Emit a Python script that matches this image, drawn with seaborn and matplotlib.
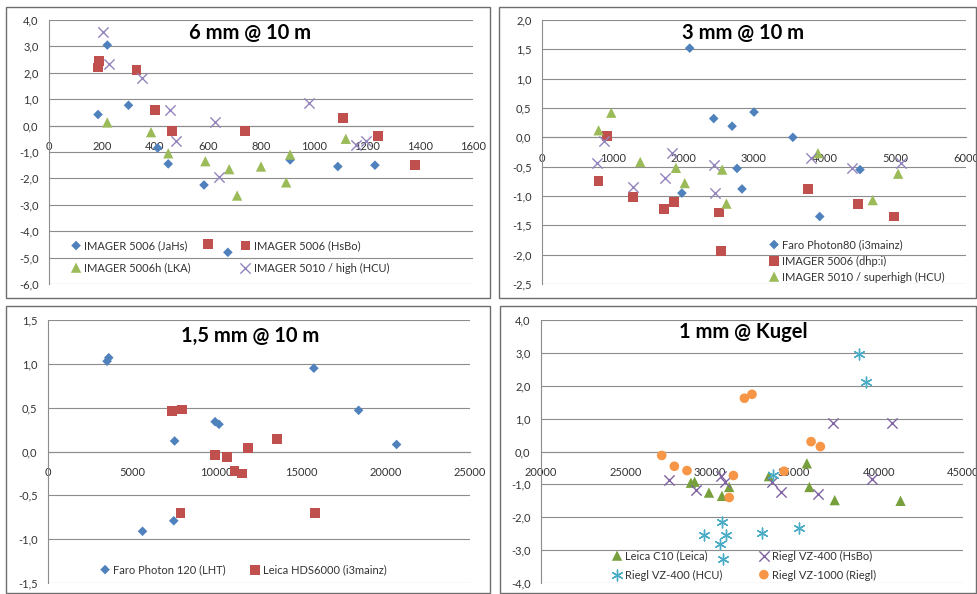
import matplotlib
matplotlib.use("Agg")
import matplotlib.pyplot as plt
from matplotlib.patches import Rectangle
from matplotlib.ticker import FuncFormatter, MultipleLocator
import seaborn as sns

# ---------------- data ----------------
# 6 mm @ 10 m
jahs_x = [185, 220, 300, 410, 450, 585, 675, 910, 1090, 1230]
jahs_y = [0.42, 3.05, 0.77, -0.85, -1.45, -2.25, -4.8, -1.3, -1.55, -1.5]
hsbo_x = [190, 185, 330, 400, 465, 600, 740, 1110, 1240, 1380]
hsbo_y = [2.45, 2.2, 2.1, 0.6, -0.22, -4.5, -0.22, 0.3, -0.4, -1.5]
lka_x = [220, 385, 450, 590, 680, 710, 800, 895, 910, 1120]
lka_y = [0.12, -0.25, -1.05, -1.35, -1.65, -2.65, -1.55, -2.15, -1.1, -0.5]
hcu_high_x = [205, 225, 350, 455, 480, 625, 640, 980, 1160, 1195]
hcu_high_y = [3.55, 2.35, 1.8, 0.6, -0.6, 0.15, -1.95, 0.85, -0.75, -0.6]

# 3 mm @ 10 m
photon80_x = [2090, 2430, 2690, 3000, 3550, 2760, 2830, 1980, 3930, 4500]
photon80_y = [1.52, 0.32, 0.19, 0.43, 0.0, -0.53, -0.88, -0.95, -1.35, -0.55]
dhpi_x = [800, 920, 1290, 1725, 1870, 2500, 2530, 3760, 4470, 4980]
dhpi_y = [-0.74, 0.02, -1.02, -1.22, -1.1, -1.28, -1.94, -0.88, -1.14, -1.35]
superhigh_x = [800, 980, 1390, 1895, 2020, 2550, 2610, 3905, 4680, 5040]
superhigh_y = [0.12, 0.42, -0.42, -0.52, -0.78, -0.55, -1.13, -0.27, -1.07, -0.62]
imager5010_x = [780, 880, 1285, 1740, 1840, 2430, 2445, 3800, 4385, 5080]
imager5010_y = [-0.44, -0.06, -0.85, -0.7, -0.27, -0.47, -0.95, -0.36, -0.53, -0.43]

# 1,5 mm @ 10 m
photon120_x = [3500, 3600, 5600, 7500, 7450, 9900, 10130, 15750, 18400, 20650]
photon120_y = [1.03, 1.07, -0.91, 0.12, -0.79, 0.34, 0.31, 0.95, 0.47, 0.08]
hds6000_x = [7350, 7920, 7850, 9900, 10600, 11050, 11500, 11850, 13550, 15800]
hds6000_y = [0.46, 0.48, -0.7, -0.04, -0.06, -0.22, -0.25, 0.04, 0.14, -0.7]

# 1 mm @ Kugel
c10_x = [28880, 29100, 29950, 30720, 31150, 33500, 35750, 35900, 37400, 41300]
c10_y = [-0.95, -0.92, -1.25, -1.35, -1.08, -0.75, -0.36, -1.08, -1.48, -1.5]
vz400_hsbo_x = [27600, 29200, 30650, 30900, 33700, 34200, 36400, 37300, 39600, 40800]
vz400_hsbo_y = [-0.88, -1.18, -0.75, -0.92, -0.92, -1.23, -1.3, 0.88, -0.83, 0.86]
vz400_hcu_x = [29650, 30720, 30600, 30950, 30800, 33100, 33750, 35300, 38850, 39250]
vz400_hcu_y = [-2.55, -2.15, -2.8, -2.55, -3.28, -2.48, -0.72, -2.33, 2.97, 2.12]
vz1000_x = [27150, 27900, 28650, 31400, 31150, 32050, 32500, 34400, 36000, 36550]
vz1000_y = [-0.12, -0.45, -0.58, -0.73, -1.4, 1.62, 1.74, -0.6, 0.3, 0.15]

titles = ["6 mm @ 10 m", "3 mm @ 10 m", "1,5 mm @ 10 m", "1 mm @ Kugel"]

# ---------------- style ----------------
sns.set_theme(style="white")
plt.rcParams["font.family"] = ["Lato", "DejaVu Sans"]

BLUE, RED, GREEN = "#4F81BD", "#C0504D", "#9BBB59"
PURPLE, AQUA, ORANGE = "#8064A2", "#4BACC6", "#F79646"
GRID = "#8c8c8c"
TXT = "#333333"
W, H = 977, 594

fig = plt.figure(figsize=(W / 100, H / 100), dpi=100)


def rect(l, r, t, b):
    return [l / W, 1 - b / H, (r - l) / W, (b - t) / H]


def comma(decimals):
    def f(v, pos):
        if abs(v) < 1e-9:
            v = 0.0
        return f"{v:.{decimals}f}".replace(".", ",")
    return FuncFormatter(f)


def setup(ax, xlim, ylim, xstep, ystep):
    ax.set_xlim(*xlim)
    ax.set_ylim(*ylim)
    ax.xaxis.set_major_locator(MultipleLocator(xstep))
    ax.yaxis.set_major_locator(MultipleLocator(ystep))
    ax.yaxis.set_major_formatter(comma(1))
    ax.xaxis.set_major_formatter(FuncFormatter(lambda v, p: f"{v:.0f}"))
    ax.spines["top"].set_visible(False)
    ax.spines["right"].set_visible(False)
    ax.spines["bottom"].set_position(("data", 0))
    for s in ("left", "bottom"):
        ax.spines[s].set_color(GRID)
        ax.spines[s].set_linewidth(0.8)
    ax.yaxis.grid(True, color=GRID, linewidth=0.8)
    ax.xaxis.grid(False)
    ax.tick_params(axis="x", direction="out", length=3, width=0.8, color=GRID,
                   pad=8, labelsize=8, labelcolor=TXT)
    ax.tick_params(axis="y", direction="out", length=4.5, width=0.8, color=GRID,
                   pad=3, labelsize=8, labelcolor=TXT)
    ax.set_xlabel("")
    ax.set_ylabel("")


def series(ax, x, y, marker, color, s, label, lw=None):
    kw = dict(x=x, y=y, marker=marker, color=color, s=s, label=label,
              zorder=3, ax=ax)
    if lw is None:
        kw["edgecolor"] = "none"
        kw["linewidth"] = 0
    else:
        kw["linewidth"] = lw
    sns.scatterplot(**kw)


def legend(ax, order, ncol, x_px, y_px, labelspacing, columnspacing):
    handles, labels = ax.get_legend_handles_labels()
    handles = [handles[i] for i in order]
    labels = [labels[i] for i in order]
    ax.legend(handles, labels, ncol=ncol, loc="center left",
              bbox_to_anchor=(x_px / W, 1 - y_px / H),
              bbox_transform=fig.transFigure, frameon=False,
              borderpad=0, borderaxespad=0, handlelength=1.0,
              handletextpad=0.25, labelspacing=labelspacing,
              columnspacing=columnspacing, fontsize=8, labelcolor=TXT,
              scatterpoints=1, scatteryoffsets=[0.5])


def title(ax, text, xf, yf):
    ax.text(xf, yf, text, transform=ax.transAxes, ha="center", va="center",
            fontsize=14.5, fontweight="bold", color="black", zorder=5)


ASTER = (6, 2, 0)

# panel frames
for l, t, r, b in [(6, 7, 490, 298), (499, 7, 976, 298),
                   (6, 306, 490, 593), (500, 306, 976, 593)]:
    fig.add_artist(Rectangle((l / W, 1 - b / H), (r - l) / W, (b - t) / H,
                             transform=fig.transFigure, fill=False,
                             ec="#6e6e6e", lw=1.0))

# --- 6 mm @ 10 m
ax1 = fig.add_axes(rect(49, 473, 20, 284))
series(ax1, jahs_x, jahs_y, "D", BLUE, 24, "IMAGER 5006 (JaHs)")
series(ax1, hsbo_x, hsbo_y, "s", RED, 50, "IMAGER 5006 (HsBo)")
series(ax1, lka_x, lka_y, "^", GREEN, 55, "IMAGER 5006h (LKA)")
series(ax1, hcu_high_x, hcu_high_y, "x", "#9585bd", 55, "IMAGER 5010 / high (HCU)", lw=1.0)
setup(ax1, (0, 1600), (-6, 4), 200, 1)
title(ax1, titles[0], 0.474, 0.951)
legend(ax1, [0, 2, 1, 3], 2, 70.5, 257, 1.0, 4.4)

# --- 3 mm @ 10 m
ax2 = fig.add_axes(rect(542, 966, 20, 284))
series(ax2, photon80_x, photon80_y, "D", BLUE, 24, "Faro Photon80 (i3mainz)")
series(ax2, dhpi_x, dhpi_y, "s", RED, 50, "IMAGER 5006 (dhp:i)")
series(ax2, superhigh_x, superhigh_y, "^", GREEN, 55, "IMAGER 5010 / superhigh (HCU)")
series(ax2, imager5010_x, imager5010_y, "x", "#9585bd", 55, "_nolegend_", lw=1.0)
setup(ax2, (0, 6000), (-2.5, 2), 1000, 0.5)
title(ax2, titles[1], 0.474, 0.951)
legend(ax2, [0, 1, 2], 1, 768.5, 261, 0.45, 1.0)

# --- 1,5 mm @ 10 m
ax3 = fig.add_axes(rect(48, 470, 320, 583))
series(ax3, photon120_x, photon120_y, "D", BLUE, 24, "Faro Photon 120 (LHT)")
series(ax3, hds6000_x, hds6000_y, "s", RED, 50, "Leica HDS6000 (i3mainz)")
setup(ax3, (0, 25000), (-1.5, 1.5), 5000, 0.5)
title(ax3, titles[2], 0.479, 0.939)
legend(ax3, [0, 1], 2, 99.5, 570, 0.5, 2.1)

# --- 1 mm @ Kugel
ax4 = fig.add_axes(rect(541, 963, 320, 583))
series(ax4, c10_x, c10_y, "^", "#77a03c", 55, "Leica C10 (Leica)")
series(ax4, vz400_hsbo_x, vz400_hsbo_y, "x", PURPLE, 55, "Riegl VZ-400 (HsBo)", lw=1.0)
series(ax4, vz400_hcu_x, vz400_hcu_y, ASTER, AQUA, 60, "Riegl VZ-400 (HCU)", lw=1.0)
series(ax4, vz1000_x, vz1000_y, "o", ORANGE, 48, "Riegl VZ-1000 (Riegl)")
setup(ax4, (20000, 45000), (-4, 4), 5000, 1)
title(ax4, titles[3], 0.479, 0.954)
legend(ax4, [0, 2, 1, 3], 2, 611.5, 565.5, 0.72, 3.2)

fig.savefig("out.png", dpi=100, facecolor="white")
